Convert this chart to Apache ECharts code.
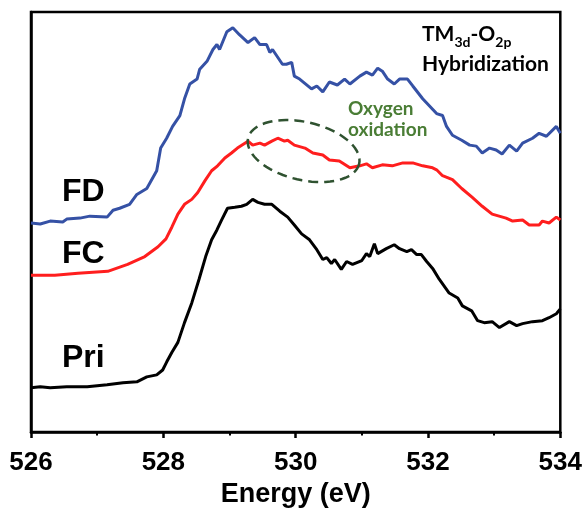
<!DOCTYPE html>
<html>
<head>
<meta charset="utf-8">
<title>O K-edge spectra</title>
<script src="https://cdn.jsdelivr.net/npm/echarts@6/dist/echarts.min.js"></script>
<style>
  html, body { margin: 0; padding: 0; background: #fff; }
  #chart { width: 585px; height: 513px; }
</style>
</head>
<body>
<div id="chart"></div>
<script>
// Photon energy (eV) and normalized intensity (offset per sample) for each spectrum.
const energyFD = [526.00, 526.14, 526.29, 526.48, 526.54, 526.74, 526.89, 527.15, 527.24, 527.34,
  527.49, 527.60, 527.75, 527.90, 527.96, 528.05, 528.14, 528.25, 528.32, 528.40, 528.51,
  528.55, 528.66, 528.75, 528.81, 528.85, 528.96, 529.05, 529.15, 529.28, 529.38,
  529.46, 529.56, 529.61, 529.65, 529.80, 529.86, 529.94, 529.98, 530.06, 530.24,
  530.32, 530.41, 530.51, 530.63, 530.74, 530.82, 530.97, 531.07, 531.16, 531.24,
  531.31, 531.39, 531.49, 531.57, 531.69, 531.77, 531.92, 532.13, 532.22, 532.28,
  532.37, 532.51, 532.63, 532.73, 532.82, 532.93, 533.03, 533.12, 533.23, 533.34,
  533.43, 533.58, 533.68, 533.79, 533.94, 534.00];
const intensityFD = [212, 211, 214, 213, 216, 217, 219, 218, 225, 227,
  231, 241, 247, 265, 288, 298, 310, 321, 338, 353, 358,
  368, 376, 388, 393, 388, 406, 410, 403, 395, 400,
  393, 393, 385, 388, 373, 373, 375, 361, 358, 348,
  351, 345, 355, 352, 358, 353, 361, 365, 362, 369,
  366, 358, 353, 358, 358, 351, 338, 323, 321, 310,
  301, 296, 291, 290, 283, 288, 286, 282, 291, 285,
  293, 298, 303, 300, 310, 303];

const energyFC = [526.00, 526.36, 526.71, 527.16, 527.46, 527.72, 527.92, 528.04, 528.13, 528.22,
  528.32, 528.43, 528.52, 528.63, 528.73, 528.82, 528.93, 529.03, 529.12, 529.28,
  529.35, 529.46, 529.53, 529.64, 529.73, 529.83, 529.88, 529.98, 530.14, 530.26,
  530.41, 530.51, 530.66, 530.82, 530.97, 531.07, 531.16, 531.31, 531.46, 531.62,
  531.77, 531.92, 532.07, 532.13, 532.22, 532.37, 532.51, 532.67, 532.82, 532.97,
  533.18, 533.28, 533.43, 533.53, 533.68, 533.73, 533.83, 533.94, 534.00];
const intensityFC = [159, 159, 161, 163, 170, 178, 188, 196, 208, 221,
  231, 236, 243, 255, 265, 270, 278, 283, 288, 295,
  291, 293, 291, 295, 298, 295, 296, 291, 288, 283,
  281, 276, 275, 268, 270, 272, 268, 271, 270, 273,
  273, 270, 268, 266, 260, 256, 247, 238, 229, 221,
  217, 214, 215, 210, 210, 214, 212, 218, 215];

const energyPri = [526.00, 526.14, 526.29, 526.54, 526.85, 527.15, 527.39, 527.60, 527.75, 527.90,
  527.99, 528.05, 528.13, 528.22, 528.32, 528.43, 528.54, 528.64, 528.73, 528.81,
  528.88, 528.97, 529.08, 529.18, 529.26, 529.35, 529.43, 529.53, 529.64, 529.76,
  529.88, 529.98, 530.09, 530.21, 530.32, 530.41, 530.47, 530.54, 530.59, 530.69,
  530.77, 530.86, 531.00, 531.07, 531.12, 531.19, 531.24, 531.37, 531.49, 531.57,
  531.68, 531.75, 531.83, 531.90, 531.98, 532.07, 532.17, 532.32, 532.45, 532.52,
  532.66, 532.75, 532.85, 532.97, 533.08, 533.23, 533.34, 533.43, 533.58, 533.73,
  533.83, 533.94, 534.00];
const intensityPri = [45, 46, 45, 46, 46, 48, 50, 51, 56, 58,
  63, 71, 81, 91, 111, 131, 155, 178, 195, 205,
  215, 227, 228, 229, 231, 236, 233, 231, 231, 224,
  218, 210, 201, 195, 185, 175, 177, 171, 175, 165,
  173, 170, 174, 181, 178, 191, 181, 186, 190, 186,
  183, 185, 180, 180, 173, 166, 155, 141, 136, 128,
  123, 113, 111, 112, 106, 112, 108, 110, 112, 113,
  116, 120, 125];

const energyTicks = [526, 528, 530, 532, 534];
const sampleNames = ['FD', 'FC', 'Pri'];
const sampleColors = ['#3551a5', '#ff1e1e', '#000000'];

const pairs = (xs, ys) => xs.map((x, i) => [x, ys[i]]);
const spectra = [pairs(energyFD, intensityFD), pairs(energyFC, intensityFC), pairs(energyPri, intensityPri)];

const chart = echarts.init(document.getElementById('chart'), null, { renderer: 'canvas' });
const axisFont = 'Liberation Sans, Arial, sans-serif';
const noteFont = 'Lato, Calibri, sans-serif';

chart.setOption({
  animation: false,
  grid: {
    left: 31, right: 24, top: 12, bottom: 75,
    show: true, borderColor: '#000', borderWidth: 2.5, backgroundColor: 'transparent'
  },
  xAxis: {
    type: 'value',
    min: energyTicks[0],
    max: energyTicks[energyTicks.length - 1],
    interval: 2,
    name: 'Energy (eV)',
    nameLocation: 'middle',
    nameGap: 47,
    nameTextStyle: { color: '#000', fontSize: 27, fontWeight: 'bold', fontFamily: axisFont },
    axisLine: { show: true, onZero: false, lineStyle: { color: '#000', width: 2.5 } },
    axisTick: { show: true, inside: false, length: 6, lineStyle: { color: '#000', width: 2.5 } },
    minorTick: { show: true, splitNumber: 2, length: 3.5, lineStyle: { color: '#000', width: 2 } },
    splitLine: { show: false },
    minorSplitLine: { show: false },
    axisLabel: { color: '#000', fontSize: 26, fontWeight: 'bold', fontFamily: axisFont, margin: 18 }
  },
  yAxis: {
    type: 'value',
    min: 0,
    max: 426,
    axisLine: { show: true, lineStyle: { color: '#000', width: 2.5 } },
    axisTick: { show: false },
    axisLabel: { show: false },
    splitLine: { show: false }
  },
  series: spectra.map((d, i) => ({
    name: sampleNames[i],
    type: 'line',
    data: d,
    showSymbol: false,
    smooth: false,
    z: 3 - i,
    lineStyle: { color: sampleColors[i], width: 3 },
    itemStyle: { color: sampleColors[i] }
  }))
});

// Dashed ellipse marking the oxygen-oxidation shoulder, centred in data space.
const centre = chart.convertToPixel({ gridIndex: 0 }, [530.12, 285]);
const ra = 57, rb = 29, tilt = 13 * Math.PI / 180;
const ring = [];
for (let k = 0; k < 72; k++) {
  const t = (k / 72) * Math.PI * 2;
  const ex = ra * Math.cos(t), ey = rb * Math.sin(t);
  ring.push([
    centre[0] + ex * Math.cos(tilt) - ey * Math.sin(tilt),
    centre[1] + ex * Math.sin(tilt) + ey * Math.cos(tilt)
  ]);
}

chart.setOption({
  graphic: [
    {
      type: 'polygon',
      shape: { points: ring },
      style: { fill: 'none', stroke: '#2f5230', lineWidth: 2.5, lineDash: [10, 6] },
      z: 10
    },
    { type: 'text', x: 62, y: 192, z: 10,
      style: { text: sampleNames[0], fill: '#000', font: 'bold 32px ' + axisFont, verticalAlign: 'middle' } },
    { type: 'text', x: 62, y: 254, z: 10,
      style: { text: sampleNames[1], fill: '#000', font: 'bold 32px ' + axisFont, verticalAlign: 'middle' } },
    { type: 'text', x: 62, y: 358, z: 10,
      style: { text: sampleNames[2], fill: '#000', font: 'bold 32px ' + axisFont, verticalAlign: 'middle' } },
    {
      type: 'text', x: 422, y: 19, z: 10,
      style: {
        text: '{m|TM}{s|3d}{m|-O}{s|2p}\n{m|Hybridization}',
        rich: {
          m: { fontSize: 21, fontWeight: 'bold', fontFamily: noteFont, fill: '#000', lineHeight: 30 },
          s: { fontSize: 14, fontWeight: 'bold', fontFamily: noteFont, fill: '#000', lineHeight: 16, verticalAlign: 'bottom' }
        }
      }
    },
    {
      type: 'text', x: 348, y: 98, z: 10,
      style: {
        text: 'Oxygen\noxidation',
        fill: '#4a7d35',
        font: 'bold 19px ' + noteFont,
        lineHeight: 21
      }
    }
  ]
});
</script>
</body>
</html>
